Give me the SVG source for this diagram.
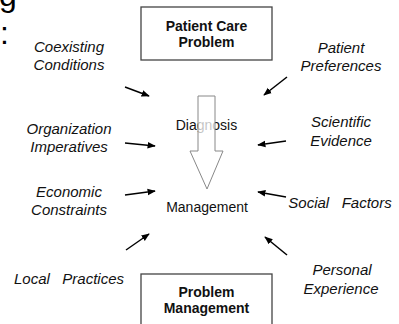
<svg xmlns="http://www.w3.org/2000/svg" width="399" height="324" viewBox="0 0 399 324">
  <style>
    .title { font-family: "Liberation Sans", Arial, sans-serif; font-size: 32px; fill: #000; }
    .factor { font-family: "Liberation Sans", Arial, sans-serif; font-size: 15px; font-style: italic; fill: #111; text-anchor: middle; }
    .stage { font-family: "Liberation Sans", Arial, sans-serif; font-size: 14px; fill: #111; text-anchor: middle; }
    .boxtext { font-family: "Liberation Sans", Arial, sans-serif; font-size: 14px; font-weight: bold; fill: #111; text-anchor: middle; }
    .box { fill: #fff; stroke: #444; stroke-width: 1.3; }
    .link { stroke: #000; stroke-width: 1.5; fill: none; marker-end: url(#head); }
    .flow { fill: #fff; fill-opacity: 0.75; stroke: #888; stroke-width: 1; }
  </style>
  <defs>
    <marker id="head" viewBox="0 0 10 10" refX="9" refY="5" markerWidth="5.5" markerHeight="5.5" orient="auto" markerUnits="strokeWidth">
      <path d="M0,1 L10,5 L0,9 Z" fill="#000"/>
    </marker>
  </defs>
  <rect width="399" height="324" fill="#fff"/>

  <!-- title fragment at the upper left edge -->
  <g id="title">
    <text class="title" x="-1" y="6">g</text>
    <text class="title" x="0" y="44">:</text>
  </g>

  <!-- start and end boxes -->
  <g id="patient-care-problem">
    <rect class="box" x="141" y="7" width="131" height="53"/>
    <text class="boxtext" x="206.5" y="31">Patient Care</text>
    <text class="boxtext" x="206.5" y="47">Problem</text>
  </g>
  <g id="problem-management">
    <rect class="box" x="141" y="274" width="131" height="60"/>
    <text class="boxtext" x="206.5" y="297">Problem</text>
    <text class="boxtext" x="206.5" y="313">Management</text>
  </g>

  <!-- central stages -->
  <g id="diagnosis">
    <text class="stage" x="206.5" y="130">Diagnosis</text>
  </g>
  <g id="management">
    <text class="stage" x="207" y="212">Management</text>
  </g>

  <!-- hollow flow arrow from diagnosis to management -->
  <g id="flow-arrow">
    <path class="flow" d="M198,96 L215,96 L215,151 L223,151 L207,189 L190,151 L198,151 Z"/>
  </g>

  <!-- influencing factors -->
  <g id="coexisting-conditions">
    <text class="factor" x="69" y="52">Coexisting</text>
    <text class="factor" x="69" y="70">Conditions</text>
  </g>
  <g id="organization-imperatives">
    <text class="factor" x="69" y="134">Organization</text>
    <text class="factor" x="69" y="152">Imperatives</text>
  </g>
  <g id="economic-constraints">
    <text class="factor" x="69" y="197">Economic</text>
    <text class="factor" x="69" y="215">Constraints</text>
  </g>
  <g id="local-practices">
    <text class="factor" x="69" y="284" xml:space="preserve">Local   Practices</text>
  </g>
  <g id="patient-preferences">
    <text class="factor" x="341" y="53">Patient</text>
    <text class="factor" x="341" y="71">Preferences</text>
  </g>
  <g id="scientific-evidence">
    <text class="factor" x="341" y="127">Scientific</text>
    <text class="factor" x="341" y="146">Evidence</text>
  </g>
  <g id="social-factors">
    <text class="factor" x="340" y="208" xml:space="preserve">Social   Factors</text>
  </g>
  <g id="personal-experience">
    <text class="factor" x="342" y="275">Personal</text>
    <text class="factor" x="341" y="294">Experience</text>
  </g>

  <!-- connectors -->
  <g id="connectors">
    <line class="link" x1="125" y1="87" x2="149" y2="96"/>
    <line class="link" x1="125" y1="143" x2="155" y2="146"/>
    <line class="link" x1="125" y1="195" x2="155" y2="191"/>
    <line class="link" x1="126" y1="250" x2="149" y2="234"/>
    <line class="link" x1="287" y1="77" x2="264" y2="95"/>
    <line class="link" x1="286" y1="141" x2="258" y2="145"/>
    <line class="link" x1="286" y1="197" x2="258" y2="192"/>
    <line class="link" x1="287" y1="255" x2="265" y2="237"/>
  </g>
</svg>
